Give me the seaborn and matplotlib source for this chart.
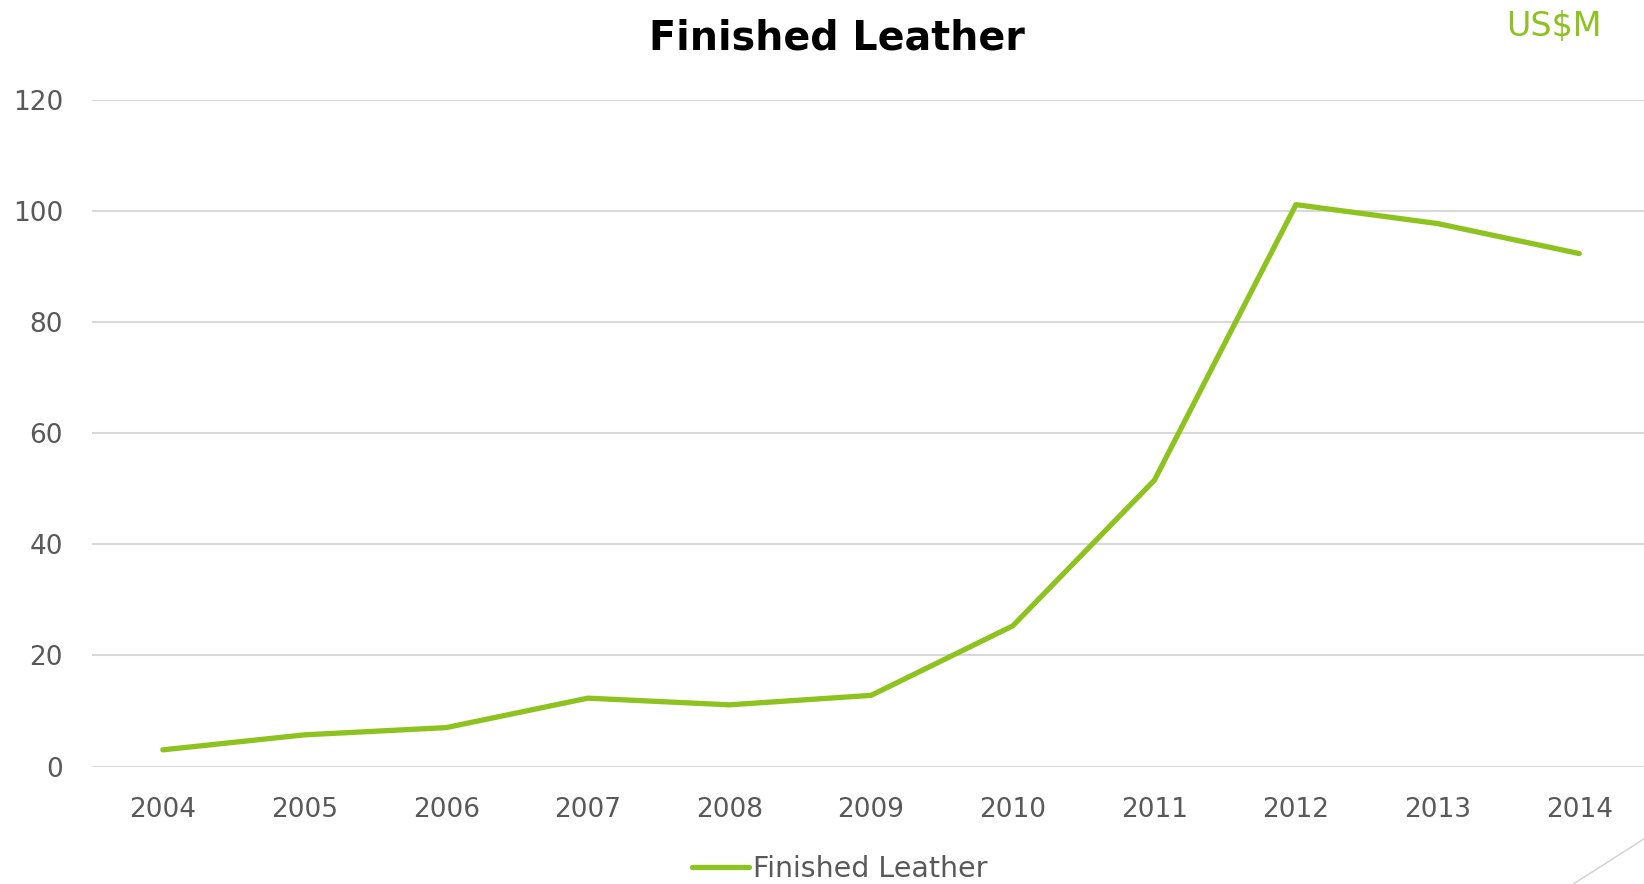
import pandas as pd
import numpy as np
import matplotlib.pyplot as plt
import seaborn as sns
from matplotlib.lines import Line2D

# ── Data ──────────────────────────────────────────────────────────────
years = [2004, 2005, 2006, 2007, 2008, 2009, 2010, 2011, 2012, 2013, 2014]
finished_leather = [3.0, 5.7, 7.0, 12.3, 11.1, 12.8, 25.3, 51.5, 101.1, 97.7, 92.3]
y_ticks = [0, 20, 40, 60, 80, 100, 120]

df = pd.DataFrame({'year': years, 'value': finished_leather})

GREEN = '#8DC21F'
GREY_TXT = '#595959'
GRID = '#D9D9D9'

# ── Plot ──────────────────────────────────────────────────────────────
sns.set_theme(style='white')
plt.rcParams['font.family'] = ['DejaVu Sans']

fig = plt.figure(figsize=(16.44, 8.84), dpi=100)
ax = fig.add_axes([0.056, 0.1329, 0.9477, 0.7544])

sns.lineplot(x='year', y='value', data=df, ax=ax, color=GREEN, linewidth=3.8,
             label='Finished Leather', legend=False, solid_capstyle='round')

ax.set_xlim(years[0] - 0.5, years[-1] + 0.5)
ax.set_ylim(y_ticks[0], y_ticks[-1])
ax.set_xticks(years)
ax.set_yticks(y_ticks)
ax.grid(axis='y', color=GRID, linewidth=1.5)
ax.set_axisbelow(True)
for s in ax.spines.values():
    s.set_visible(False)
ax.tick_params(axis='both', length=0, labelsize=19, labelcolor=GREY_TXT)
ax.tick_params(axis='y', pad=21)
ax.tick_params(axis='x', pad=22)
ax.set_xlabel('')
ax.set_ylabel('')

fig.text(0.509, 0.956, 'Finished Leather', ha='center', va='center',
         fontsize=28.5, fontweight='bold', color='black')
fig.text(0.945, 0.970, 'US$M', ha='center', va='center', fontsize=24, color=GREEN)

handle = Line2D([], [], color=GREEN, linewidth=3.8, solid_capstyle='round')
fig.legend([handle], ['Finished Leather'], loc='center', bbox_to_anchor=(0.511, 0.017),
           frameon=False, fontsize=20.5, labelcolor=GREY_TXT, handlelength=2.0,
           handletextpad=0.15)

# decorative corner stroke
fig.add_artist(Line2D([1.0, 0.957], [0.051, 0.0], color='#D0D0D0', linewidth=1.0))

fig.savefig('out.png', dpi=100)
